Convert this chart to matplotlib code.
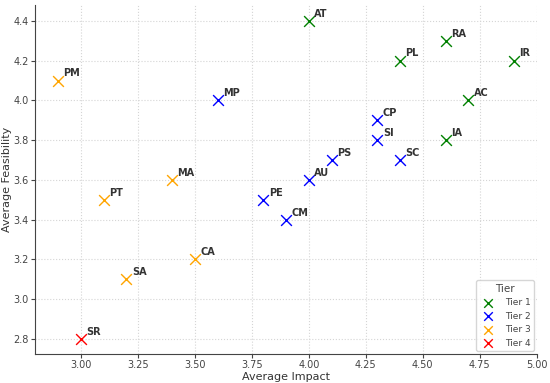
import matplotlib.pyplot as plt

labels = ["AT", "RA", "PL", "IR", "AC", "IA",
          "MP", "CP", "SI", "SC", "PS", "AU", "PE", "CM",
          "PM", "MA", "PT", "CA", "SA",
          "SR"]
impact = [4.0, 4.6, 4.4, 4.9, 4.7, 4.6,
          3.6, 4.3, 4.3, 4.4, 4.1, 4.0, 3.8, 3.9,
          2.9, 3.4, 3.1, 3.5, 3.2,
          3.0]
feasibility = [4.4, 4.3, 4.2, 4.2, 4.0, 3.8,
               4.0, 3.9, 3.8, 3.7, 3.7, 3.6, 3.5, 3.4,
               4.1, 3.6, 3.5, 3.2, 3.1,
               2.8]
tiers = [1] * 6 + [2] * 8 + [3] * 5 + [4]
tier_colors = {1: "green", 2: "blue", 3: "orange", 4: "red"}

fig, ax = plt.subplots(figsize=(5.5, 3.83), dpi=100)

for t in [1, 2, 3, 4]:
    xs = [x for x, tt in zip(impact, tiers) if tt == t]
    ys = [y for y, tt in zip(feasibility, tiers) if tt == t]
    ax.scatter(xs, ys, marker="x", s=60, color=tier_colors[t], linewidths=1.0,
               label=f"Tier {t}", zorder=3)

# tags just up-right of each marker
for lab, x, y in zip(labels, impact, feasibility):
    ax.annotate(lab, (x, y), xytext=(4, 3), textcoords="offset points",
                fontsize=7, fontweight="bold", color="#333333")

ax.set_xlim(2.8, 5.0)
ax.set_ylim(2.725, 4.48)
ax.set_xticks([3.0, 3.25, 3.5, 3.75, 4.0, 4.25, 4.5, 4.75, 5.0])
ax.set_yticks([2.8, 3.0, 3.2, 3.4, 3.6, 3.8, 4.0, 4.2, 4.4])
ax.grid(True, linestyle=":", color="#d5d5d5", linewidth=0.8)
ax.set_axisbelow(True)
for side in ["top", "right"]:
    ax.spines[side].set_visible(False)
for side in ["left", "bottom"]:
    ax.spines[side].set_color("#444444")
ax.tick_params(labelsize=7, colors="#444444", length=3, pad=1.5)
ax.set_xlabel("Average Impact", fontsize=8, color="#333333", labelpad=1)
ax.set_ylabel("Average Feasibility", fontsize=8, color="#333333", labelpad=1)
leg = ax.legend(title="Tier", loc="lower right", fontsize=6.5, title_fontsize=7.5,
                borderaxespad=0.3, handletextpad=0.8, markerscale=0.8)
plt.setp(leg.get_texts(), color="#444444")
leg.get_title().set_color("#444444")

plt.subplots_adjust(left=0.064, right=0.976, top=0.987, bottom=0.076)
plt.savefig("out.png")
